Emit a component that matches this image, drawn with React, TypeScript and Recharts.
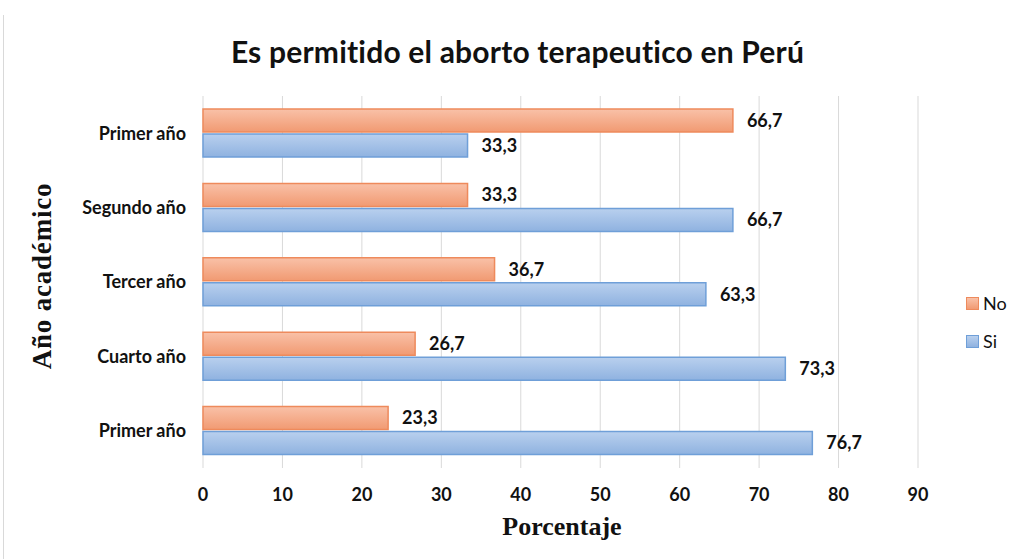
import React from 'react';
import { BarChart, Bar, XAxis, YAxis, CartesianGrid, LabelList } from 'recharts';

const categories = ['Primer año', 'Segundo año', 'Tercer año', 'Cuarto año', 'Primer año'];
const noValues = [66.7, 33.3, 36.7, 26.7, 23.3];
const siValues = [33.3, 66.7, 63.3, 73.3, 76.7];
const xTicks = [0, 10, 20, 30, 40, 50, 60, 70, 80, 90];

const data = categories.map((c, i) => ({ idx: i, name: c, No: noValues[i], Si: siValues[i] }));

const fmt = (v: any) => Number(v).toFixed(1).replace('.', ',');

const tickFont = "Lato, 'Open Sans', sans-serif";

export default function App() {
  return (
    <div style={{ position: 'absolute', left: 0, top: 0, width: 1011, height: 559, background: '#fff', fontFamily: tickFont }}>
      <div style={{ position: 'absolute', left: 3, top: 15, width: 0, height: 544, borderLeft: '1px solid #d9d9d9' }} />
      <div style={{ position: 'absolute', left: 0, width: 1035, top: 33, textAlign: 'center', fontSize: 30, fontWeight: 700, color: '#111', fontFamily: tickFont, letterSpacing: 0.2 }}>
        Es permitido el aborto terapeutico en Perú
      </div>
      <BarChart
        width={1011}
        height={559}
        data={data}
        layout="vertical"
        margin={{ top: 96, right: 93, left: 0, bottom: 0 }}
        barSize={23}
        barGap={2}
      >
        <defs>
          <linearGradient id="gNo" x1="0" y1="0" x2="0" y2="1">
            <stop offset="0%" stopColor="#f9c1a8" />
            <stop offset="100%" stopColor="#f19a72" />
          </linearGradient>
          <linearGradient id="gSi" x1="0" y1="0" x2="0" y2="1">
            <stop offset="0%" stopColor="#b9d0ee" />
            <stop offset="100%" stopColor="#8fb2e0" />
          </linearGradient>
        </defs>
        <CartesianGrid horizontal={false} stroke="#d9d9d9" />
        <XAxis
          type="number"
          domain={[0, 90]}
          ticks={xTicks}
          axisLine={false}
          tickLine={false}
          tickMargin={14}
          height={91}
          tick={{ fontSize: 18, fontWeight: 700, fill: '#111', fontFamily: tickFont }}
          interval={0}
        />
        <YAxis
          type="category"
          dataKey="idx"
          width={203}
          axisLine={false}
          tickLine={false}
          tickMargin={11}
          tickFormatter={(v: any) => categories[Number(v)]}
          tick={{ fontSize: 18, fontWeight: 700, fill: '#111', fontFamily: tickFont }}
          interval={0}
        />
        <Bar dataKey="No" fill="url(#gNo)" stroke="#ee8a5c" strokeWidth={1.5} isAnimationActive={false}>
          <LabelList dataKey="No" position="right" offset={14} formatter={fmt} style={{ fontSize: 18, fontWeight: 700, fill: '#111', fontFamily: tickFont }} />
        </Bar>
        <Bar dataKey="Si" fill="url(#gSi)" stroke="#6f9fd8" strokeWidth={1.5} isAnimationActive={false}>
          <LabelList dataKey="Si" position="right" offset={14} formatter={fmt} style={{ fontSize: 18, fontWeight: 700, fill: '#111', fontFamily: tickFont }} />
        </Bar>
      </BarChart>
      <div style={{ position: 'absolute', left: 0, width: 1124, top: 512, textAlign: 'center', fontSize: 26, fontWeight: 700, fontFamily: "'Liberation Serif', 'Times New Roman', serif", color: '#111' }}>
        Porcentaje
      </div>
      <div style={{ position: 'absolute', left: 42, top: 276, transform: 'translate(-50%, -50%) rotate(-90deg)', whiteSpace: 'nowrap', fontSize: 27, fontWeight: 700, fontFamily: "'Liberation Serif', 'Times New Roman', serif", color: '#111', letterSpacing: 0.8 }}>
        Año académico
      </div>
      <div style={{ position: 'absolute', left: 966, top: 292, display: 'flex', alignItems: 'center' }}>
        <div style={{ width: 11, height: 11, background: 'linear-gradient(#f9c1a8, #f19a72)', border: '1px solid #ee8a5c' }} />
        <span style={{ marginLeft: 4, fontSize: 18, color: '#111' }}>No</span>
      </div>
      <div style={{ position: 'absolute', left: 966, top: 330, display: 'flex', alignItems: 'center' }}>
        <div style={{ width: 11, height: 11, background: 'linear-gradient(#b9d0ee, #8fb2e0)', border: '1px solid #6f9fd8' }} />
        <span style={{ marginLeft: 4, fontSize: 18, color: '#111' }}>Si</span>
      </div>
    </div>
  );
}
